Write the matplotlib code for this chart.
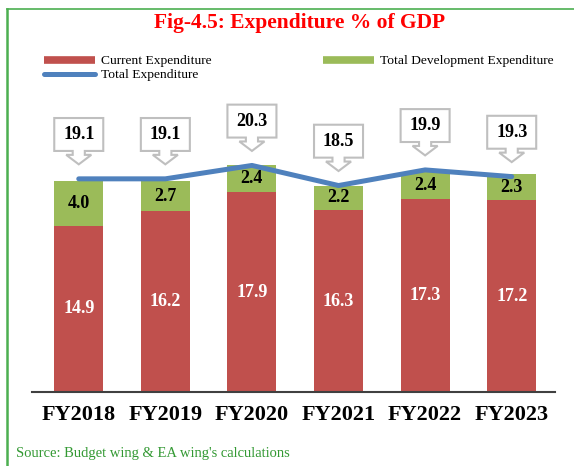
import matplotlib
matplotlib.use("Agg")
import matplotlib.pyplot as plt
from matplotlib.patches import Polygon
from matplotlib.lines import Line2D

years = ["FY2018", "FY2019", "FY2020", "FY2021", "FY2022", "FY2023"]
current = [14.9, 16.2, 17.9, 16.3, 17.3, 17.2]
development = [4.0, 2.7, 2.4, 2.2, 2.4, 2.3]
total = [19.1, 19.1, 20.3, 18.5, 19.9, 19.3]

red = "#C0504D"
green = "#9BBB59"
blue = "#4F81BD"
plt.rcParams["font.family"] = ["Liberation Serif", "DejaVu Serif"]

fig = plt.figure(figsize=(5.74, 4.66), dpi=100)
ax = fig.add_axes([32/574, 74/466, 523/574, 279/466])

x = list(range(len(years)))
w = 0.566
ax.bar(x, current, width=w, color=red, zorder=2)
ax.bar(x, development, width=w, bottom=current, color=green, zorder=2)
ax.plot(x, total, color=blue, lw=3.6, solid_capstyle="round", zorder=3)

for i in x:
    ax.text(i, current[i]/2, f"{current[i]:.1f}", ha="center", va="center",
            color="white", fontsize=13, fontweight="bold", zorder=4)
    ax.text(i, current[i] + development[i]/2, f"{development[i]:.1f}", ha="center",
            va="center", color="black", fontsize=13, fontweight="bold", zorder=4)
    # callout box with arrow pointing to the total line
    v = total[i]
    hw, sw, aw = w/2, 0.07, 0.145
    pts = [(i-hw, v+5.45), (i+hw, v+5.45), (i+hw, v+2.5), (i+sw, v+2.5),
           (i+sw, v+2.15), (i+aw, v+2.15), (i, v+1.3), (i-aw, v+2.15),
           (i-sw, v+2.15), (i-sw, v+2.5), (i-hw, v+2.5)]
    ax.add_patch(Polygon(pts, closed=True, facecolor="white", edgecolor="#BFBFBF",
                         lw=1.5, clip_on=False, zorder=5))
    ax.text(i, v+3.95, f"{v:.1f}", ha="center", va="center", fontsize=13,
            fontweight="bold", zorder=6, clip_on=False)

ax.set_xlim(-0.54, 5.5)
ax.set_ylim(0, 25)
ax.set_xticks(x)
ax.set_xticklabels(years, fontsize=16, fontweight="bold")
ax.tick_params(axis="x", length=0, pad=9)
ax.set_yticks([])
for s in ["top", "right", "left"]:
    ax.spines[s].set_visible(False)
ax.spines["bottom"].set_color("#404040")
ax.spines["bottom"].set_linewidth(1.5)

handles = [Line2D([], [], color=red, lw=5.5, solid_capstyle="butt"),
           Line2D([], [], color=blue, lw=3.6, solid_capstyle="round"),
           Line2D([], [], color=green, lw=5.5, solid_capstyle="butt")]
labels = ["Current Expenditure", "Total Expenditure", "Total Development Expenditure"]
fig.legend(handles, labels, loc="upper left", bbox_to_anchor=(44/574, 1-55/466),
           ncol=2, frameon=False, fontsize=9.7, handlelength=3.8, handletextpad=0.4,
           columnspacing=8.3, labelspacing=0.12, borderpad=0, borderaxespad=0)

fig.text(300/574, 1-23/466, "Fig-4.5: Expenditure % of GDP", ha="center", va="center",
         color="#FF0000", fontsize=15.5, fontweight="bold")
fig.text(16/574, 1-453/466, "Source: Budget wing & EA wing's calculations", ha="left",
         va="center", color="#339933", fontsize=10.5)

# green frame on top and left
fig.add_artist(Line2D([7/574, 1], [1-9/466, 1-9/466], color="#4CAF50", lw=1.2,
                      transform=fig.transFigure))
fig.add_artist(Line2D([7/574, 7/574], [0, 1-9/466], color="#4CAF50", lw=1.8,
                      transform=fig.transFigure))

fig.savefig("out.png", dpi=100)
